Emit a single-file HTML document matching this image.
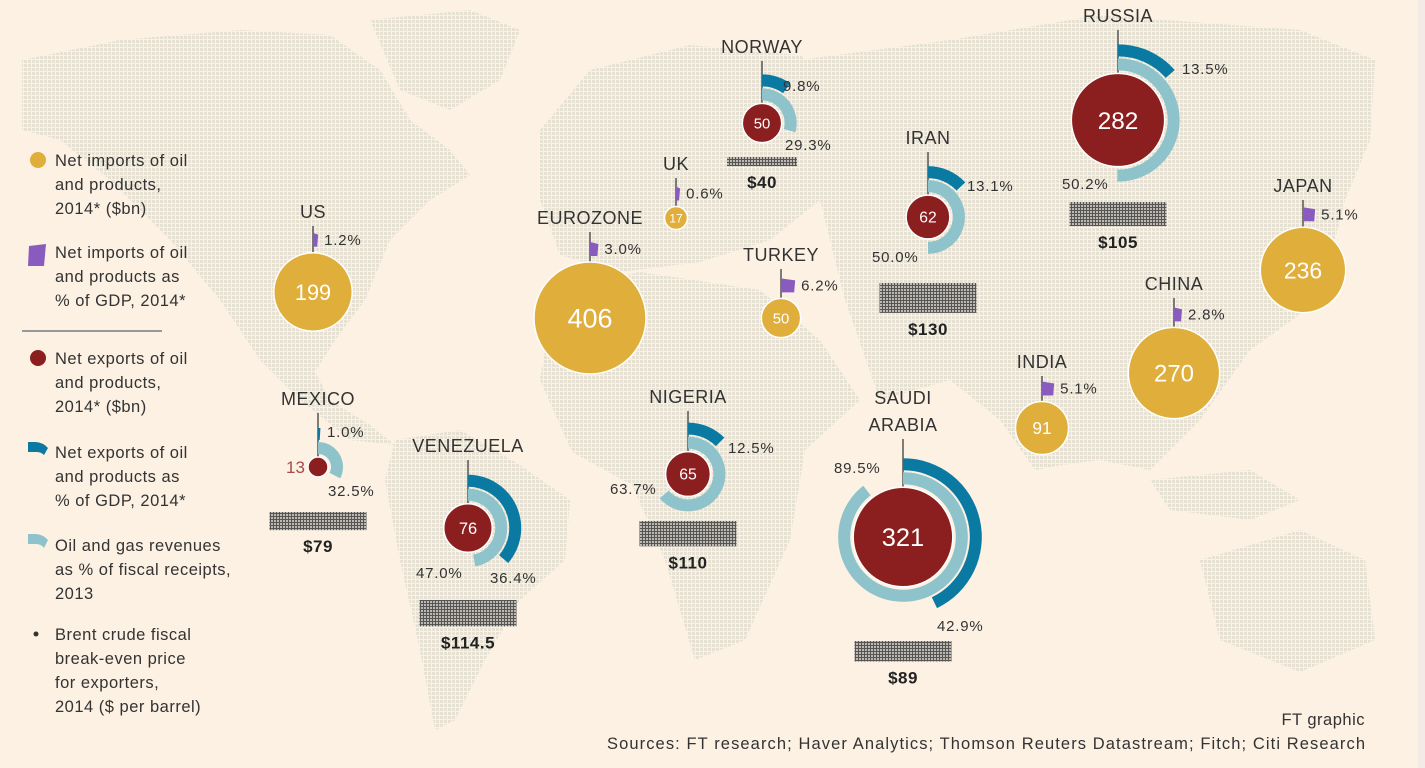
<!DOCTYPE html>
<html><head><meta charset="utf-8"><style>
body{margin:0;width:1425px;height:768px;overflow:hidden;background:#fcf1e3;font-family:"Liberation Sans",sans-serif}
svg{display:block}
</style></head><body>
<svg id="c" width="1425" height="768">
<defs>
<pattern id="dots" width="4" height="4" patternUnits="userSpaceOnUse"><rect width="3" height="3" fill="#e6e1d3"/></pattern>
<pattern id="hatch" width="3" height="3" patternUnits="userSpaceOnUse"><rect width="3" height="3" fill="#bdb8b0"/><rect width="3" height="1" fill="#555"/><rect width="1" height="3" fill="#555"/></pattern>
</defs>
<rect x="1418" y="0" width="7" height="768" fill="#f5ebe6"/>
<g id="map">
<polygon points="22,60 120,40 240,30 330,35 380,70 410,120 450,150 470,175 430,200 390,240 365,300 335,340 315,372 330,400 370,425 395,445 350,440 300,400 260,360 220,300 170,240 110,180 60,140 22,130" fill="url(#dots)"/>
<polygon points="370,20 470,10 520,30 500,80 450,110 400,90" fill="url(#dots)"/>
<polygon points="395,440 460,430 520,465 570,500 565,560 520,600 485,660 455,720 435,730 420,650 400,560 385,480" fill="url(#dots)"/>
<polygon points="540,130 590,70 690,45 800,55 850,100 820,200 770,240 700,262 620,272 560,255 540,200" fill="url(#dots)"/>
<polygon points="555,290 640,272 760,290 820,340 860,400 805,450 790,540 745,640 695,660 665,560 632,485 572,452 540,380" fill="url(#dots)"/>
<polygon points="800,60 950,40 1100,15 1300,30 1375,60 1370,140 1345,200 1320,300 1250,350 1200,420 1150,470 1100,460 1062,465 1035,470 1000,420 950,380 880,400 845,300 820,200" fill="url(#dots)"/>
<polygon points="1150,480 1250,470 1300,500 1250,520 1170,510" fill="url(#dots)"/>
<polygon points="1200,560 1300,530 1365,560 1375,640 1300,672 1220,640" fill="url(#dots)"/>
</g>
<g id="legend" font-size="16.5" letter-spacing="0.5" fill="#333">
<circle cx="38" cy="160" r="8" fill="#e0ae3a"/>
<text x="55" y="166"><tspan x="55">Net imports of oil</tspan><tspan x="55" dy="24">and products,</tspan><tspan x="55" dy="24">2014* ($bn)</tspan></text>
<polygon points="29,246 46,244 44,266 28,266" fill="#8a5bbf"/>
<text x="55" y="258"><tspan x="55">Net imports of oil</tspan><tspan x="55" dy="24">and products as</tspan><tspan x="55" dy="24">% of GDP, 2014*</tspan></text>
<line x1="22" y1="331" x2="162" y2="331" stroke="#999" stroke-width="2"/>
<circle cx="38" cy="358" r="8" fill="#8b1e1e"/>
<text x="55" y="364"><tspan x="55">Net exports of oil</tspan><tspan x="55" dy="24">and products,</tspan><tspan x="55" dy="24">2014* ($bn)</tspan></text>
<path d="M28,440 L36,440 A18,18 0 0 1 48,446 L44,453 A10,10 0 0 0 36,450 L28,450 Z" fill="#0b7aa3" transform="translate(0,2)"/>
<text x="55" y="458"><tspan x="55">Net exports of oil</tspan><tspan x="55" dy="24">and products as</tspan><tspan x="55" dy="24">% of GDP, 2014*</tspan></text>
<path d="M28,534 L36,534 A18,18 0 0 1 48,540 L44,548 A10,10 0 0 0 36,544 L28,544 Z" fill="#8ec3cc"/>
<text x="55" y="551"><tspan x="55">Oil and gas revenues</tspan><tspan x="55" dy="24">as % of fiscal receipts,</tspan><tspan x="55" dy="24">2013</tspan></text>
<circle cx="36" cy="634" r="2.5" fill="#333"/>
<text x="55" y="640"><tspan x="55">Brent crude fiscal</tspan><tspan x="55" dy="24">break-even price</tspan><tspan x="55" dy="24">for exporters,</tspan><tspan x="55" dy="24">2014 ($ per barrel)</tspan></text>
</g>
<text x="1365" y="725" text-anchor="end" font-size="16.5" letter-spacing="0.5" fill="#333">FT graphic</text>
<text x="607" y="749" textLength="758" lengthAdjust="spacing" font-size="16.5" fill="#333">Sources: FT research; Haver Analytics; Thomson Reuters Datastream; Fitch; Citi Research</text>
<g id="marks"></g>
</svg>
<script>
const countries=["US","MEXICO","VENEZUELA","EUROZONE","UK","TURKEY","NORWAY","NIGERIA","IRAN","SAUDI|ARABIA","RUSSIA","INDIA","CHINA","JAPAN"];
const flowValues=[199,13,76,406,17,50,50,65,62,321,282,91,270,236];
const flowTypes=["imp","exp","exp","imp","imp","imp","exp","exp","exp","exp","exp","imp","imp","imp"];
const gdpPct=[1.2,1.0,36.4,3.0,0.6,6.2,9.8,12.5,13.1,42.9,13.5,5.1,2.8,5.1];
const fiscalPct=[null,32.5,47.0,null,null,null,29.3,63.7,50.0,89.5,50.2,null,null,null];
const breakeven=[null,79,114.5,null,null,null,40,110,130,89,105,null,null,null];
const breakevenLabels=[null,"$79","$114.5",null,null,null,"$40","$110","$130","$89","$105",null,null,null];
// layout (positions only)
const layout=[
 {cx:313,cy:292,ly:218},
 {cx:318,cy:467,ly:405,gl:[327,437],fl:[328,496],by:512},
 {cx:468,cy:528,ly:452,gl:[490,583],fl:[416,578],by:600},
 {cx:590,cy:318,ly:224},
 {cx:676,cy:218,ly:170},
 {cx:781,cy:318,ly:261},
 {cx:762,cy:123,ly:53,gl:[783,91],fl:[785,150],by:157},
 {cx:688,cy:474,ly:403,gl:[728,453],fl:[610,494],by:521},
 {cx:928,cy:217,ly:144,gl:[967,191],fl:[872,262],by:283},
 {cx:903,cy:537,ly:431,gl:[937,631],fl:[834,473],by:641},
 {cx:1118,cy:120,ly:22,gl:[1182,74],fl:[1062,189],by:202},
 {cx:1042,cy:428,ly:368,gl:[0,0]},
 {cx:1174,cy:373,ly:290},
 {cx:1303,cy:270,ly:192}
];
const NS="http://www.w3.org/2000/svg";
const g=document.getElementById("marks");
function mk(t,a,p){const e=document.createElementNS(NS,t);for(const k in a)e.setAttribute(k,a[k]);(p||g).appendChild(e);return e;}
function rScale(v){return 2.78*Math.sqrt(v);}
function arcPath(cx,cy,r0,r1,frac){
 const a=frac*2*Math.PI,large=frac>0.5?1:0;
 const x=(r,t)=>cx+r*Math.sin(t),y=(r,t)=>cy-r*Math.cos(t);
 return `M${x(r1,0)},${y(r1,0)} A${r1},${r1} 0 ${large} 1 ${x(r1,a)},${y(r1,a)} L${x(r0,a)},${y(r0,a)} A${r0},${r0} 0 ${large} 0 ${x(r0,0)},${y(r0,0)} Z`;
}
countries.forEach((name,i)=>{
 const L=layout[i],v=flowValues[i],r=rScale(v),imp=flowTypes[i]==="imp";
 const grp=mk("g",{});
 
 
 const parts=name.split("|");
 parts.forEach((p,k)=>{const t=mk("text",{x:L.cx,y:L.ly-(parts.length-1-k)*27,"text-anchor":"middle","font-size":18,"letter-spacing":0.5,fill:"#333"},grp);t.textContent=p;
  
  });
 const lineTop=L.ly+8;
 const ln=mk("line",{x1:L.cx,y1:lineTop,x2:L.cx,y2:L.cy-r,stroke:"#555","stroke-width":1.5},grp);
 
 
 const pf={"font-size":15,"letter-spacing":0.8,fill:"#333"};
 if(imp){
  const w=3+gdpPct[i]*1.8,fy=L.cy-r-20;
  const f=mk("polygon",{points:`${L.cx},${fy} ${L.cx+w},${fy+2} ${L.cx+w-1},${fy+14} ${L.cx},${fy+14}`,fill:"#8a5bbf"},grp);
  
  
  const t=mk("text",Object.assign({x:L.cx+w+6,y:fy+12},pf),grp);t.textContent=gdpPct[i].toFixed(1)+"%";
  
  
 }else{
  const fr=mk("path",{d:arcPath(L.cx,L.cy,r+3,r+15,fiscalPct[i]/100),fill:"#8ec3cc"},grp);
  
  
  const gr=mk("path",{d:arcPath(L.cx,L.cy,r+17,r+29,gdpPct[i]/100),fill:"#0b7aa3"},grp);
  
  
  const t1=mk("text",Object.assign({x:L.gl[0],y:L.gl[1]},pf),grp);t1.textContent=gdpPct[i].toFixed(1)+"%";
  
  
  const t2=mk("text",Object.assign({x:L.fl[0],y:L.fl[1]},pf),grp);t2.textContent=fiscalPct[i].toFixed(1)+"%";
  
  
  const bh=breakeven[i]*0.23,bw=breakeven[i]<50?70:97;
  const b=mk("rect",{x:L.cx-bw/2,y:L.by,width:bw,height:bh,fill:"url(#hatch)"},grp);
  
  
  const bt=mk("text",{x:L.cx,y:L.by+bh+22,"text-anchor":"middle","font-size":17,"font-weight":"bold","letter-spacing":0.5,fill:"#222"},grp);bt.textContent=breakevenLabels[i];
  
  
 }
 const c=mk("circle",{cx:L.cx,cy:L.cy,r:r,fill:imp?"#e0ae3a":"#8b1e1e",stroke:"#fff","stroke-width":1.5},grp);
 
 
 const small=r<12;
 const fs=small&&!imp?17:Math.min(27,8+r*0.35);
 const vt=mk("text",{x:small&&!imp?L.cx-r-3:L.cx,y:L.cy+fs*0.36,"text-anchor":small&&!imp?"end":"middle","font-size":fs,fill:small&&!imp?"#a84a4a":"#fff"},grp);
 vt.textContent=v;
 
 
});
</script>
</body></html>
